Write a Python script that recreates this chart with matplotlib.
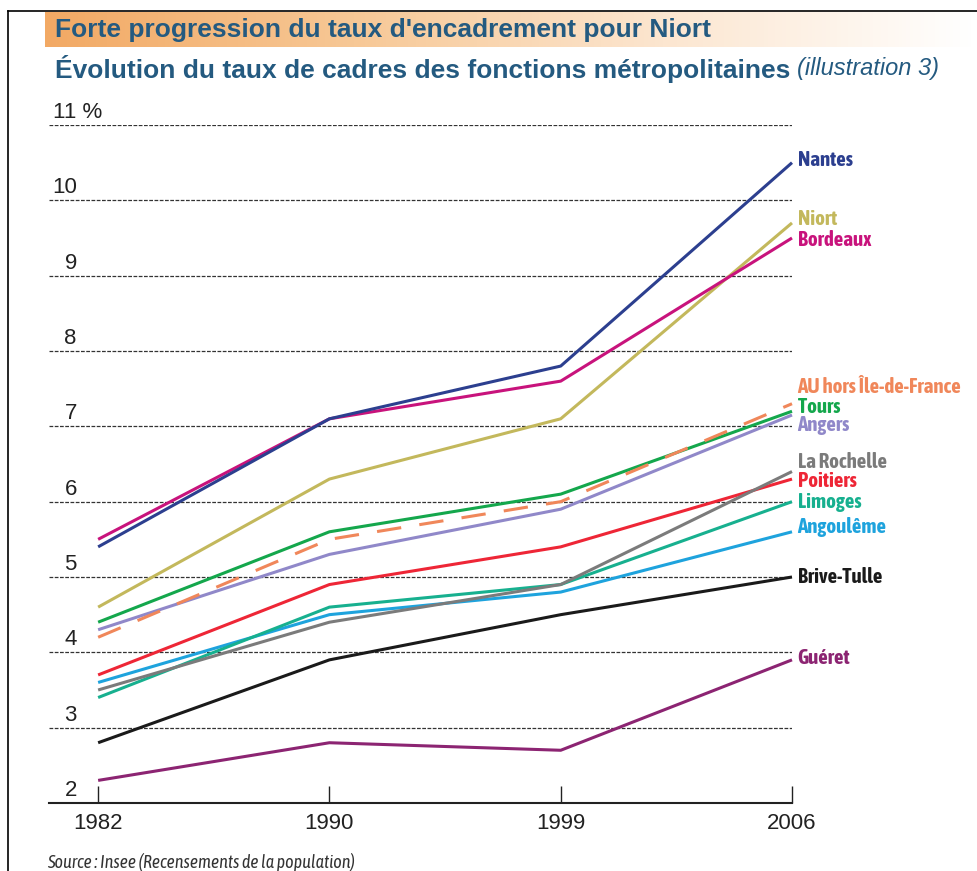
import numpy as np
import matplotlib
matplotlib.use("Agg")
from matplotlib import pyplot as plt
from matplotlib import font_manager
from matplotlib import patheffects
from matplotlib.colors import LinearSegmentedColormap

# données (taux de cadres des fonctions métropolitaines, en %)
years = ["1982", "1990", "1999", "2006"]
nantes = [5.4, 7.1, 7.8, 10.5]
bordeaux = [5.5, 7.1, 7.6, 9.5]
niort = [4.6, 6.3, 7.1, 9.7]
au_hors_idf = [4.2, 5.5, 6.0, 7.3]
tours = [4.4, 5.6, 6.1, 7.2]
angers = [4.3, 5.3, 5.9, 7.15]
la_rochelle = [3.5, 4.4, 4.9, 6.4]
poitiers = [3.7, 4.9, 5.4, 6.3]
limoges = [3.4, 4.6, 4.9, 6.0]
angouleme = [3.6, 4.5, 4.8, 5.6]
brive_tulle = [2.8, 3.9, 4.5, 5.0]
gueret = [2.3, 2.8, 2.7, 3.9]

y_ticks = [3, 4, 5, 6, 7, 8, 9, 10, 11]

# (nom, valeurs, couleur, style, hauteur de l'étiquette)
series = [
    ("Guéret", gueret, "#8c2472", "-", 3.92),
    ("Brive-Tulle", brive_tulle, "#1a1a1a", "-", 5.0),
    ("Angoulême", angouleme, "#1ea3dd", "-", 5.67),
    ("Limoges", limoges, "#17b08f", "-", 5.99),
    ("Poitiers", poitiers, "#ee2636", "-", 6.27),
    ("La Rochelle", la_rochelle, "#7b7b7b", "-", 6.53),
    ("Angers", angers, "#9088c9", "-", 7.02),
    ("Tours", tours, "#14a74c", "-", 7.26),
    ("AU hors Île-de-France", au_hors_idf, "#f0875a", (0, (8, 6)), 7.52),
    ("Niort", niort, "#c3b85c", "-", 9.75),
    ("Bordeaux", bordeaux, "#c8137c", "-", 9.47),
    ("Nantes", nantes, "#2c3f8f", "-", 10.53),
]

# police étroite si disponible, de préférence en gras
narrow_fonts = [f for f in font_manager.fontManager.ttflist
                if "Narrow" in f.name or "Condensed" in f.name]
narrow_bold = [f for f in narrow_fonts if f.weight in (700, "bold") and f.style == "normal"]
if narrow_bold:
    narrow, fake_bold = narrow_bold[0].name, False
elif narrow_fonts:
    narrow, fake_bold = narrow_fonts[0].name, True
else:
    narrow, fake_bold = None, False
label_size = 15 if narrow else 12
small_family = [narrow, "DejaVu Sans"] if narrow else ["Liberation Sans", "DejaVu Sans"]

plt.rcParams["font.family"] = ["Liberation Sans", "DejaVu Sans"]

W, H = 978, 871
fig = plt.figure(figsize=(W / 100, H / 100), dpi=100)

# cadre de la page
fig.add_artist(plt.Line2D([8 / W, 8 / W], [0, 1 - 11 / H], color="black", lw=1.2))
fig.add_artist(plt.Line2D([8 / W, 1], [1 - 11 / H, 1 - 11 / H], color="black", lw=1.2))

# bandeau orange en dégradé
band = fig.add_axes([45 / W, 1 - 47 / H, (975 - 45) / W, 35 / H])
cmap = LinearSegmentedColormap.from_list("band", ["#f2a964", "#f7c896", "#fce6d0", "#ffffff"])
band.imshow(np.linspace(0, 1, 256).reshape(1, -1), aspect="auto", cmap=cmap)
band.axis("off")

title_color = "#245a80"
fig.text(55 / W, 1 - 30 / H, "Forte progression du taux d'encadrement pour Niort",
         fontsize=19, fontweight="bold", color=title_color, va="center", ha="left")
t = fig.text(55 / W, 1 - 69 / H, "Évolution du taux de cadres des fonctions métropolitaines",
             fontsize=19, fontweight="bold", color=title_color, va="center", ha="left")
fig.canvas.draw()
bb = t.get_window_extent()
fig.text((bb.x1 + 7) / W, 1 - 69 / H, "(illustration 3)", fontsize=17, fontstyle="italic",
         color=title_color, va="center", ha="left")

ax = fig.add_axes([49 / W, 1 - 803 / H, (792 - 49) / W, (803 - 125) / H])
x = np.arange(len(years))
ax.set_xlim(-49 / 230.67, 3)
ax.set_ylim(2, 11)

for v in [2] + y_ticks:
    if v != 2:
        ax.axhline(v, color="#333333", lw=0.9, ls=(0, (3, 1.2)), zorder=1)
    if v == 11:
        ax.annotate("11 %", xy=(0, v), xycoords=("axes fraction", "data"), xytext=(3, 5),
                    textcoords="offset points", ha="left", va="baseline", fontsize=16,
                    color="#222222")
    else:
        ax.annotate(str(v), xy=(0, v), xycoords=("axes fraction", "data"), xytext=(20, 5),
                    textcoords="offset points", ha="right", va="baseline", fontsize=16,
                    color="#222222")

for name, vals, color, style, ly in series:
    ax.plot(x, vals, color=color, lw=2.2, ls=style, clip_on=False, zorder=3,
            solid_capstyle="butt")
    txt = ax.annotate(name, xy=(3, ly), xytext=(4, 0), textcoords="offset points",
                      ha="left", va="center", fontsize=label_size, fontweight="bold",
                      color=color, family=small_family, annotation_clip=False)
    if fake_bold:
        txt.set_path_effects([patheffects.withStroke(linewidth=0.9, foreground=color)])

for side in ["top", "right", "left"]:
    ax.spines[side].set_visible(False)
ax.spines["bottom"].set_linewidth(1.5)
ax.spines["bottom"].set_color("#222222")
ax.set_yticks([])
ax.set_xticks(x)
ax.set_xticklabels(years, fontsize=16, color="#222222")
ax.tick_params(axis="x", direction="in", length=12, width=1.0, color="#222222", pad=7)

fig.text(47 / W, 1 - 862 / H, "Source : Insee (Recensements de la population)",
         fontsize=10.4 if not narrow else 13, fontstyle="italic", color="#333333",
         va="center", ha="left", family=small_family)

fig.savefig("out.png", dpi=100)
